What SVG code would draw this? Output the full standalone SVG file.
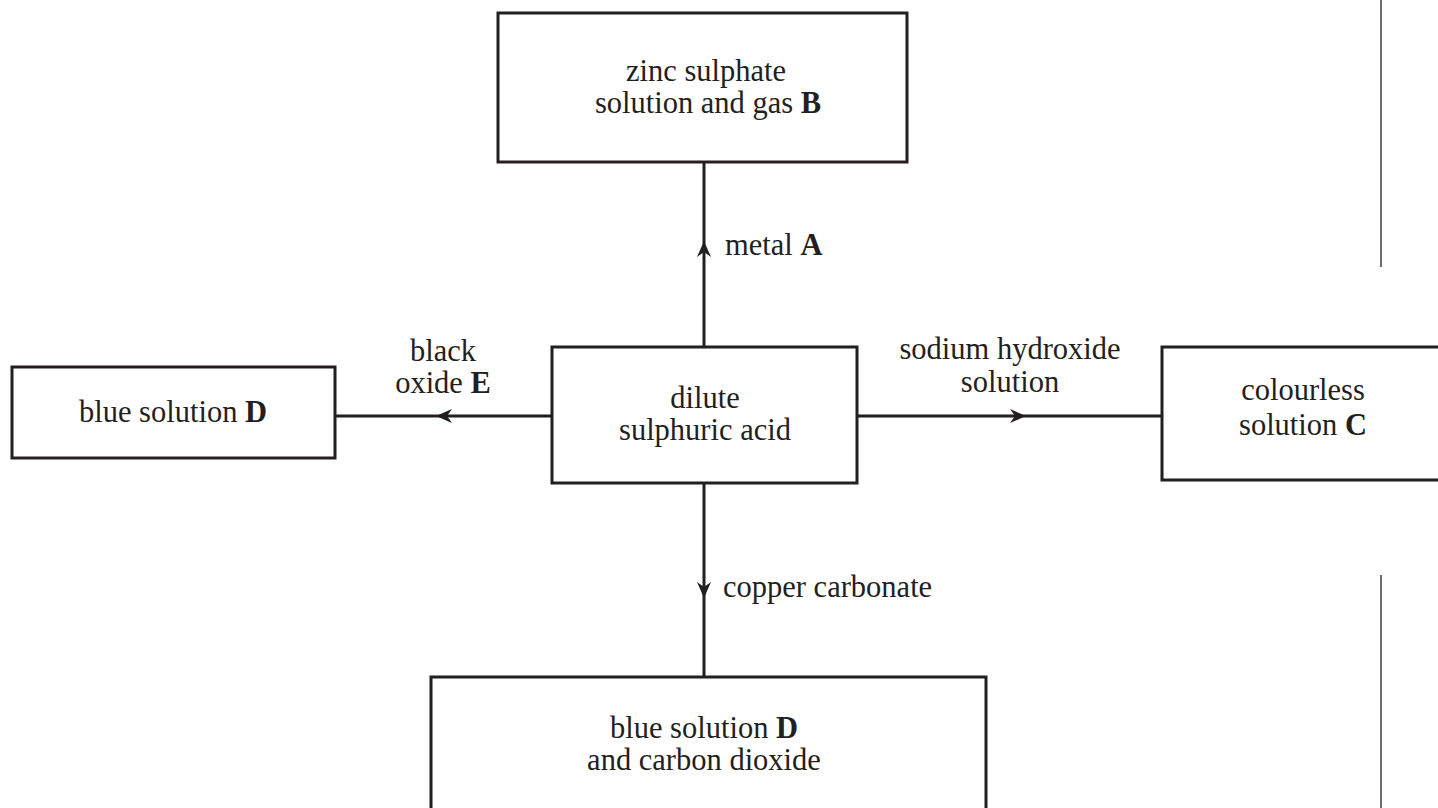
<svg xmlns="http://www.w3.org/2000/svg" width="1438" height="808" viewBox="0 0 1438 808">
<style>
.box{fill:#fff;stroke:#231f20;stroke-width:3}
.ln{stroke:#231f20;stroke-width:3;fill:none}
.edge{stroke:#6d6a6b;stroke-width:2;fill:none}
text{font-family:"Liberation Serif","Times New Roman",serif;font-size:30.5px;fill:#231f20}
.c{text-anchor:middle}
.b{font-weight:bold}
.ah{fill:#231f20}
</style>
<defs>
<path id="arr" d="M0,0 L-16,-7 L-11,0 L-16,7 Z" class="ah"/>
</defs>
<rect width="1438" height="808" fill="#fff"/>
<g id="connectors">
<line class="ln" x1="704" y1="162" x2="704" y2="347"/>
<line class="ln" x1="335" y1="416" x2="552" y2="416"/>
<line class="ln" x1="857" y1="416" x2="1162" y2="416"/>
<line class="ln" x1="704" y1="483" x2="704" y2="677"/>
<use href="#arr" transform="translate(704,241) rotate(-90)"/>
<use href="#arr" transform="translate(436,416) rotate(180)"/>
<use href="#arr" transform="translate(1026,416)"/>
<use href="#arr" transform="translate(704,598) rotate(90)"/>
<text x="725" y="255">metal <tspan class="b">A</tspan></text>
<text class="c" x="443" y="361">black</text>
<text class="c" x="443" y="393">oxide <tspan class="b">E</tspan></text>
<text class="c" x="1010" y="359">sodium hydroxide</text>
<text class="c" x="1010" y="392">solution</text>
<text x="723" y="597">copper carbonate</text>
</g>
<g id="nodeB">
<rect class="box" x="498" y="13" width="409" height="149"/>
<text class="c" x="706" y="81">zinc sulphate</text>
<text class="c" x="708" y="113">solution and gas <tspan class="b">B</tspan></text>
</g>
<g id="nodeAcid">
<rect class="box" x="552" y="347" width="305" height="136"/>
<text class="c" x="705" y="408">dilute</text>
<text class="c" x="705" y="440">sulphuric acid</text>
</g>
<g id="nodeD1">
<rect class="box" x="12" y="367" width="323" height="91"/>
<text class="c" x="173" y="422">blue solution <tspan class="b">D</tspan></text>
</g>
<g id="nodeC">
<rect class="box" x="1162" y="347" width="290" height="133"/>
<text class="c" x="1303" y="400">colourless</text>
<text class="c" x="1303" y="435">solution <tspan class="b">C</tspan></text>
</g>
<g id="nodeD2">
<rect class="box" x="431" y="677" width="555" height="150"/>
<text class="c" x="704" y="738">blue solution <tspan class="b">D</tspan></text>
<text class="c" x="704" y="770">and carbon dioxide</text>
</g>
<g id="margin">
<line class="edge" x1="1381" y1="0" x2="1381" y2="267"/>
<line class="edge" x1="1381" y1="575" x2="1381" y2="808"/>
</g>
</svg>
